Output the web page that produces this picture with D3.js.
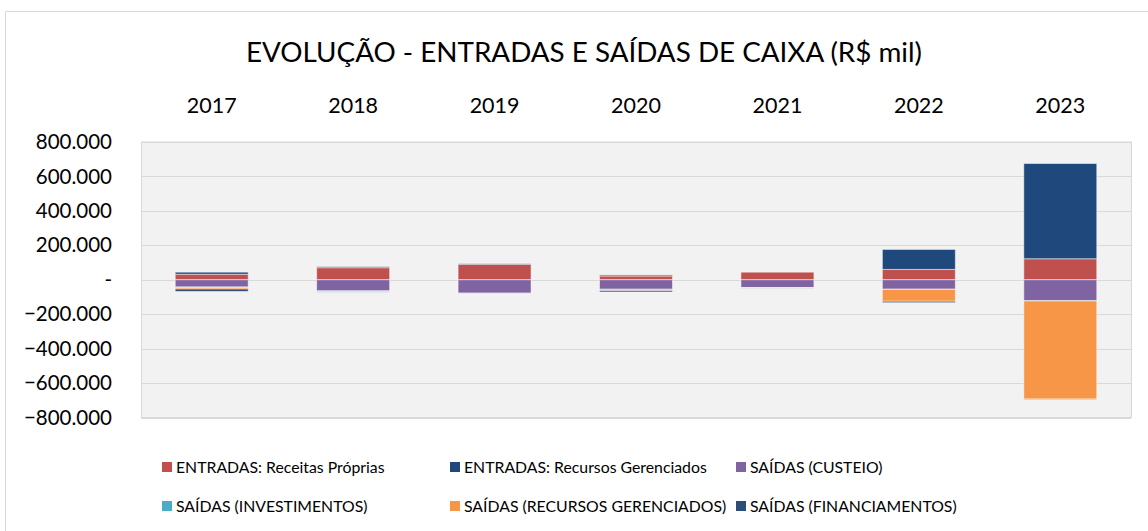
<!DOCTYPE html>
<html>
<head>
<meta charset="utf-8" />
<title>Evolução - Entradas e Saídas de Caixa</title>
<style>
    body { margin: 0; background: #fff; }
    text { font-family: Lato, "Open Sans", sans-serif; fill: #000; }
    .grid line { stroke: #d9d9d9; stroke-width: 1px; }
</style>
</head>
<body>
<div id="container"></div>
<script src="https://cdn.jsdelivr.net/npm/d3@7/dist/d3.min.js"></script>
<script>
// valores em R$ mil
var years = ["2017", "2018", "2019", "2020", "2021", "2022", "2023"];
var receitasProprias   = [32000, 70000, 90000, 22000, 44000, 60000, 122000];
var recursosGerEntrada = [12000, 6000, 3000, 6000, 0, 116000, 553000];
var custeio            = [-42000, -65000, -78000, -55000, -45000, -55000, -122000];
var investimentos      = [-3000, -1000, -1000, -6000, -1000, -1000, -1000];
var recursosGerSaida   = [-9000, -5000, -1000, -2000, -2000, -69000, -570000];
var financiamentos     = [-14000, -1000, -1000, -8000, -1000, -8000, -2000];
var yTicks = [-800000, -600000, -400000, -200000, 0, 200000, 400000, 600000, 800000];

var seriesNames = [
    "ENTRADAS: Receitas Próprias",
    "ENTRADAS: Recursos Gerenciados",
    "SAÍDAS (CUSTEIO)",
    "SAÍDAS (INVESTIMENTOS)",
    "SAÍDAS (RECURSOS GERENCIADOS)",
    "SAÍDAS (FINANCIAMENTOS)"
];
var seriesData = [receitasProprias, recursosGerEntrada, custeio, investimentos, recursosGerSaida, financiamentos];
var colors = ["#c0504d", "#1f497d", "#8064a2", "#4bacc6", "#f79646", "#2c4d75"];

var width = 1148, height = 531;
var plot = { left: 141, right: 1131, top: 142, bottom: 417.5 };

var svg = d3.select("#container").append("svg")
    .attr("width", width)
    .attr("height", height);

// borda do gráfico
svg.append("path")
    .attr("d", "M5.5,531V11.5H1148")
    .attr("fill", "none")
    .attr("stroke", "#d9d9d9");

// tabela para o d3.stack
var table = years.map(function(y, i) {
    var row = { year: y };
    seriesNames.forEach(function(s, j) { row[s] = seriesData[j][i]; });
    return row;
});

var x = d3.scaleBand()
    .domain(years)
    .range([plot.left, plot.right])
    .paddingInner(0.484)
    .paddingOuter(0.242);

var y = d3.scaleLinear()
    .domain([-800000, 800000])
    .range([plot.bottom, plot.top]);

var ptBR = d3.formatLocale({ decimal: ",", thousands: ".", grouping: [3], currency: ["R$", ""] });
var fmt = ptBR.format(",d");

// fundo da área de plotagem
svg.append("rect")
    .attr("x", plot.left + 0.5)
    .attr("y", y(800000))
    .attr("width", plot.right - plot.left)
    .attr("height", y(-800000) - y(800000))
    .attr("fill", "#f2f2f2")
    .attr("stroke", "#d9d9d9");

// linhas de grade
svg.append("g")
    .attr("class", "grid")
    .selectAll("line")
    .data(yTicks)
    .enter()
    .append("line")
    .attr("x1", plot.left)
    .attr("x2", plot.right)
    .attr("y1", d => Math.round(y(d)) + 0.5)
    .attr("y2", d => Math.round(y(d)) + 0.5);

// eixo y
var yAxis = d3.axisLeft(y)
    .tickValues(yTicks)
    .tickSize(0)
    .tickPadding(0)
    .tickFormat(d => d === 0 ? "-" : fmt(d));

var gy = svg.append("g")
    .attr("transform", "translate(112,0)")
    .call(yAxis);
gy.select(".domain").remove();
gy.selectAll("text")
    .attr("font-size", "20.5px")
    .attr("font-family", "Lato, sans-serif")
    .attr("fill", "#000");

// rótulos dos anos no topo
var xAxis = d3.axisTop(x).tickSize(0).tickPadding(0);
var gx = svg.append("g")
    .attr("transform", "translate(0,113)")
    .call(xAxis);
gx.select(".domain").remove();
gx.selectAll("text")
    .attr("font-size", "21.5px")
    .attr("font-family", "Lato, sans-serif")
    .attr("fill", "#000")
    .attr("dy", 0);

// barras empilhadas
var stack = d3.stack()
    .keys(seriesNames)
    .offset(d3.stackOffsetDiverging);
var layers = stack(table);

svg.append("g")
    .selectAll("g")
    .data(layers)
    .enter()
    .append("g")
    .attr("fill", (d, i) => colors[i])
    .selectAll("rect")
    .data(d => d)
    .enter()
    .append("rect")
    .attr("x", d => x(d.data.year))
    .attr("width", x.bandwidth())
    .attr("y", d => y(d[1]))
    .attr("height", d => Math.abs(y(d[0]) - y(d[1])))
    .attr("stroke", "rgba(255,255,255,0.5)")
    .attr("stroke-width", 1);

// título
svg.append("text")
    .attr("x", 584)
    .attr("y", 62)
    .attr("text-anchor", "middle")
    .attr("font-size", "27.8px")
    .text("EVOLUÇÃO - ENTRADAS E SAÍDAS DE CAIXA (R$ mil)");

// legenda
var legX = [162, 450, 736];
var legY = [467, 506];
var legend = svg.append("g")
    .selectAll("g")
    .data(seriesNames)
    .enter()
    .append("g")
    .attr("transform", (d, i) => "translate(" + legX[i % 3] + "," + legY[Math.floor(i / 3)] + ")");
legend.append("rect")
    .attr("x", 0)
    .attr("y", -5)
    .attr("width", 10)
    .attr("height", 10)
    .attr("fill", (d, i) => colors[i]);
legend.append("text")
    .attr("x", 14)
    .attr("dy", "0.35em")
    .attr("font-size", "15.8px")
    .text(d => d);
</script>
</body>
</html>
